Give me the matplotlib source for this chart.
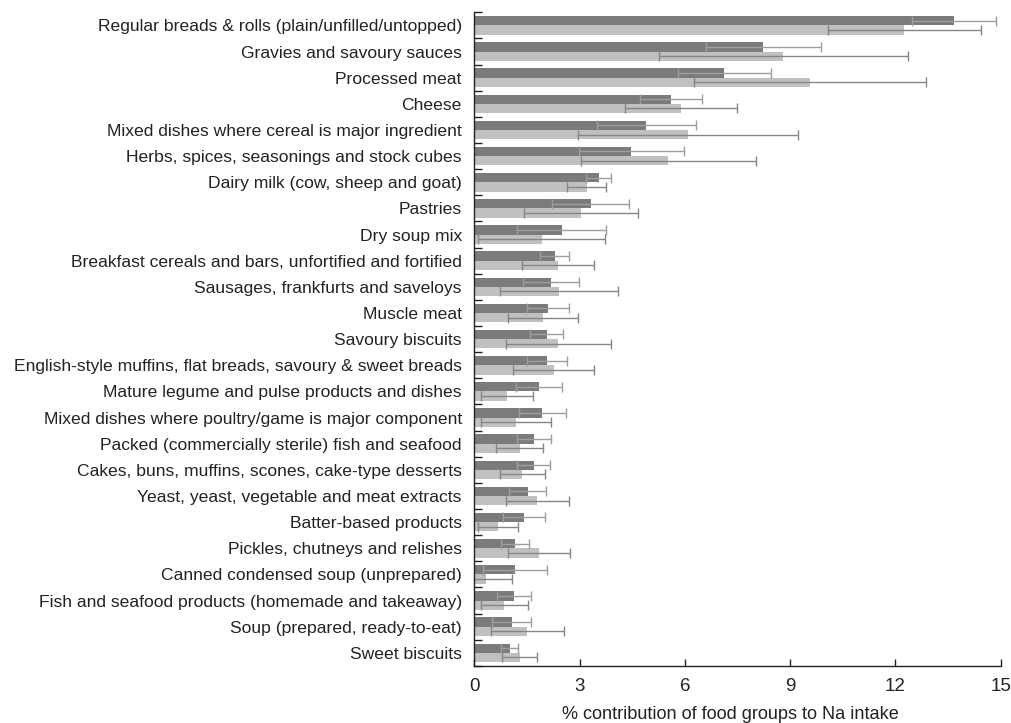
"""
Horizontal grouped bar chart of the percentage contribution of food groups
to sodium (Na) intake, with error bars for two groups.
"""

import matplotlib.pyplot as plt
import numpy as np

plt.rcParams['font.family'] = ['Liberation Sans', 'DejaVu Sans']

food_groups = [
    'Regular breads & rolls (plain/unfilled/untopped)',
    'Gravies and savoury sauces',
    'Processed meat',
    'Cheese',
    'Mixed dishes where cereal is major ingredient',
    'Herbs, spices, seasonings and stock cubes',
    'Dairy milk (cow, sheep and goat)',
    'Pastries',
    'Dry soup mix',
    'Breakfast cereals and bars, unfortified and fortified',
    'Sausages, frankfurts and saveloys',
    'Muscle meat',
    'Savoury biscuits',
    'English-style muffins, flat breads, savoury & sweet breads',
    'Mature legume and pulse products and dishes',
    'Mixed dishes where poultry/game is major component',
    'Packed (commercially sterile) fish and seafood',
    'Cakes, buns, muffins, scones, cake-type desserts',
    'Yeast, yeast, vegetable and meat extracts',
    'Batter-based products',
    'Pickles, chutneys and relishes',
    'Canned condensed soup (unprepared)',
    'Fish and seafood products (homemade and takeaway)',
    'Soup (prepared, ready-to-eat)',
    'Sweet biscuits',
]

# mean % contribution, first group (dark bars)
group1_mean = [13.68, 8.24, 7.13, 5.60, 4.90, 4.47, 3.54, 3.32, 2.49, 2.29,
               2.18, 2.10, 2.07, 2.07, 1.85, 1.93, 1.71, 1.69, 1.52, 1.41,
               1.16, 1.16, 1.13, 1.06, 1.01]
group1_err = [1.20, 1.65, 1.32, 0.88, 1.41, 1.50, 0.35, 1.10, 1.27, 0.41,
              0.80, 0.60, 0.47, 0.58, 0.66, 0.67, 0.48, 0.47, 0.52, 0.60,
              0.40, 0.92, 0.48, 0.56, 0.24]

# mean % contribution, second group (light bars)
group2_mean = [12.25, 8.81, 9.56, 5.89, 6.10, 5.53, 3.20, 3.05, 1.92, 2.38,
               2.41, 1.96, 2.39, 2.26, 0.94, 1.19, 1.29, 1.37, 1.80, 0.67,
               1.85, 0.34, 0.86, 1.51, 1.30]
group2_err = [2.18, 3.54, 3.31, 1.60, 3.14, 2.50, 0.56, 1.62, 1.81, 1.03,
              1.69, 1.00, 1.50, 1.16, 0.74, 1.00, 0.67, 0.65, 0.90, 0.57,
              0.89, 0.72, 0.67, 1.04, 0.50]

x_ticks = [0, 3, 6, 9, 12, 15]


def plot_food_group_contribution():
    """Draw the grouped horizontal bar chart and save it to out.png."""
    y = np.arange(len(food_groups))
    height = 0.355

    fig = plt.figure(figsize=(10.12, 7.23), dpi=100)
    ax = fig.add_axes([0.4687, 0.079, 0.5200, 0.904])

    ax.barh(y - height / 2, group1_mean, height, color='#7b7b7b', linewidth=0)
    ax.barh(y + height / 2, group2_mean, height, color='#c0c0c0', linewidth=0)

    ax.errorbar(group1_mean, y - height / 2, xerr=group1_err, fmt='none',
                ecolor='#9e9e9e', elinewidth=1.0, capsize=3.5, capthick=1.0)
    ax.errorbar(group2_mean, y + height / 2, xerr=group2_err, fmt='none',
                ecolor='#858585', elinewidth=1.0, capsize=3.5, capthick=1.0)

    ax.set_xlim(0, 15)
    ax.set_ylim(len(food_groups) - 0.5, -0.5)

    ax.set_yticks(y)
    ax.set_yticklabels(food_groups, fontsize=12.6, color='#222222')
    ax.tick_params(axis='y', which='major', length=0, pad=9)
    ax.set_yticks(np.arange(len(food_groups) + 1) - 0.5, minor=True)
    ax.tick_params(axis='y', which='minor', direction='in', length=6,
                   width=1.0, color='#222222')

    ax.set_xticks(x_ticks)
    ax.tick_params(axis='x', direction='in', length=5, width=1.0,
                   labelsize=13.5, pad=9, color='#222222', labelcolor='#222222')
    ax.set_xlabel('% contribution of food groups to Na intake', fontsize=13.1,
                  color='#222222')
    ax.xaxis.set_label_coords(0.486, -0.0615)

    for side in ('top', 'right'):
        ax.spines[side].set_visible(False)
    for side in ('left', 'bottom'):
        ax.spines[side].set_linewidth(1.0)
        ax.spines[side].set_color('#222222')

    fig.savefig('out.png', dpi=100)


if __name__ == "__main__":
    plot_food_group_contribution()
